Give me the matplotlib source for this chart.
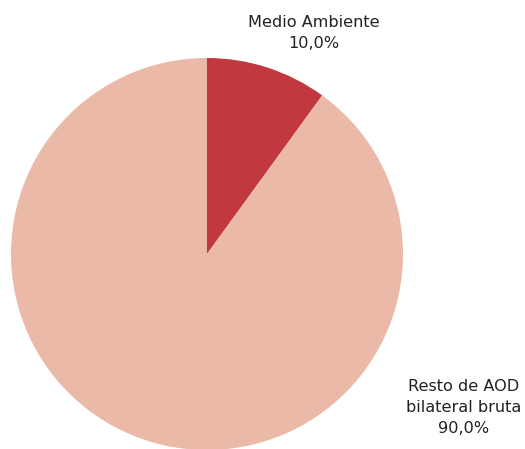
import matplotlib.pyplot as plt

labels = ['Medio Ambiente', 'Resto de AOD\nbilateral bruta']
values = [10.0, 90.0]
colors = ['#C1393F', '#EAB9A8']

fig = plt.figure(figsize=(5.25, 4.49), dpi=100)
# axes sized to the pie (radius ~196 px, centre at 207,254 px)
ax = fig.add_axes([11 / 525, (449 - 254 - 196) / 449, 392 / 525, 392 / 449])
ax.pie(values, colors=colors, startangle=90, counterclock=False,
       radius=1, wedgeprops=dict(linewidth=0))
ax.set_xlim(-1, 1)
ax.set_ylim(-1, 1)
ax.set_aspect('equal')
ax.axis('off')

# label positions in pie units
pos = [(0.546, 1.125), (1.31, -0.785)]
for lab, v, (x, y) in zip(labels, values, pos):
    txt = lab + '\n' + ('%.1f%%' % v).replace('.', ',')
    ax.text(x, y, txt, ha='center', va='center', fontsize=11.6,
            color='#222222', linespacing=1.5, clip_on=False)

fig.savefig('out.png', dpi=100)
